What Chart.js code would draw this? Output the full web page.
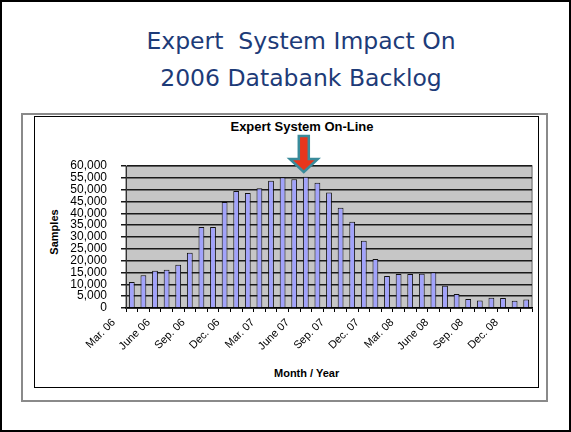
<!DOCTYPE html>
<html>
<head>
<meta charset="utf-8">
<script src="https://cdn.jsdelivr.net/npm/chart.js@4/dist/chart.umd.min.js"></script>
<style>
  html, body { margin: 0; padding: 0; background: #fff; }
  #slide {
    position: relative;
    width: 571px;
    height: 432px;
    box-sizing: border-box;
    border: 2px solid #000;
    overflow: hidden;
  }
  .heading {
    position: absolute;
    left: 0;
    width: 598px;
    text-align: center;
    font-family: "DejaVu Sans", sans-serif;
    font-size: 23.5px;
    color: #1d3b78;
    white-space: pre;
  }
  #outerBox {
    position: absolute;
    left: 19px; top: 111px;
    width: 523px; height: 285px;
    border: 2px solid #8a8a8a;
  }
  #innerBox {
    position: absolute;
    left: 32px; top: 114px;
    width: 503px; height: 270px;
    border: 1.5px solid #000;
  }
  .lbl {
    position: absolute;
    font-family: "Liberation Sans", Arial, sans-serif;
    font-weight: bold;
    color: #000;
    white-space: nowrap;
  }
  #wrap { position: absolute; left: 0; top: 0; width: 571px; height: 432px; }
</style>
</head>
<body>
<div id="slide">
  <div class="heading" style="top:25px;">Expert  System Impact On</div>
  <div class="heading" style="top:62px;">2006 Databank Backlog</div>
  <div id="outerBox"></div>
  <div id="innerBox"></div>
  <div class="lbl" style="left:0;width:600px;text-align:center;top:117px;font-size:13px;">Expert System On-Line</div>
  <div class="lbl" style="left:272px;top:365px;font-size:11px;">Month / Year</div>
  <div class="lbl" style="left:52px;top:230px;font-size:11px;transform:translate(-50%,-50%) rotate(-90deg);">Samples</div>
</div>
<div id="wrap"><canvas id="backlog"></canvas></div>

<script>
// months from Mar. 06 through Jan. 09, every third one gets a label
const months = [
  "Mar. 06", "Apr. 06", "May 06", "June 06", "July 06", "Aug. 06",
  "Sep. 06", "Oct. 06", "Nov. 06", "Dec. 06", "Jan. 07", "Feb. 07",
  "Mar. 07", "Apr. 07", "May 07", "June 07", "July 07", "Aug. 07",
  "Sep. 07", "Oct. 07", "Nov. 07", "Dec. 07", "Jan. 08", "Feb. 08",
  "Mar. 08", "Apr. 08", "May 08", "June 08", "July 08", "Aug. 08",
  "Sep. 08", "Oct. 08", "Nov. 08", "Dec. 08", "Jan. 09"
];

// backlog samples per month
const samples = [
  11000, 13800, 15700, 16200, 18300, 23300, 34200, 34200, 44800, 49400,
  48600, 50600, 53800, 55200, 54400, 55500, 52900, 48800, 42400, 36400,
  28400, 20700, 13500, 14400, 14400, 14500, 15100, 9400, 5900, 3800,
  3200, 4300, 4200, 3050, 3600
];

// y axis ticks
const yMin = 0;
const yMax = 60000;
const yStep = 5000;

// month when the expert system went on-line
const onLineMonth = "June 07";

// gray plot background
const plotBackground = {
  id: "plotBackground",
  beforeDraw(chart) {
    const { ctx, chartArea: a } = chart;
    ctx.save();
    ctx.fillStyle = "#c6c6c6";
    ctx.fillRect(a.left, a.top, a.right - a.left, a.bottom - a.top);
    ctx.strokeStyle = "#8c8c8c";
    ctx.lineWidth = 1.5;
    ctx.strokeRect(a.left, a.top, a.right - a.left, a.bottom - a.top);
    ctx.restore();
  },
};

// red arrow pointing at the on-line month
const onLineArrow = {
  id: "onLineArrow",
  afterDraw(chart) {
    const { ctx, chartArea: a } = chart;
    const x = chart.scales.x.getPixelForValue(months.indexOf(onLineMonth)) - 2;
    const tip = a.top + 6;
    ctx.save();
    ctx.beginPath();
    ctx.moveTo(x, tip);
    ctx.lineTo(x - 14, tip - 13);
    ctx.lineTo(x - 5, tip - 13);
    ctx.lineTo(x - 5, tip - 36);
    ctx.lineTo(x + 5, tip - 36);
    ctx.lineTo(x + 5, tip - 13);
    ctx.lineTo(x + 14, tip - 13);
    ctx.closePath();
    ctx.fillStyle = "#e8361c";
    ctx.fill();
    ctx.lineWidth = 2.5;
    ctx.strokeStyle = "#3a8b9b";
    ctx.stroke();
    ctx.restore();
  },
};

new Chart("backlog", {
  type: "bar",
  data: {
    labels: months,
    datasets: [
      {
        data: samples,
        backgroundColor: "#a2a3fb",
        borderColor: "#111",
        borderWidth: 1,
        barPercentage: 0.5,
        categoryPercentage: 1,
      },
    ],
  },
  options: {
    responsive: true,
    maintainAspectRatio: false,
    animation: false,
    layout: { padding: { top: 166, right: 39, left: 0, bottom: 0 } },
    plugins: {
      legend: { display: false },
      tooltip: { enabled: false },
    },
    scales: {
      x: {
        offset: true,
        afterFit: (s) => { s.height = 124; },
        grid: {
          offset: true,
          drawOnChartArea: false,
          drawTicks: true,
          tickLength: 4,
          color: "#000",
        },
        border: { color: "#000", width: 1.5 },
        ticks: {
          autoSkip: false,
          maxRotation: 45,
          minRotation: 45,
          padding: 4,
          labelOffset: -18,
          color: "#000",
          font: { family: "Liberation Sans", size: 11 },
          callback: (v, i) => (i % 3 === 0 ? months[i] : ""),
        },
      },
      y: {
        min: yMin,
        max: yMax,
        afterFit: (s) => { s.width = 126; },
        grid: {
          color: "#1a1a1a",
          lineWidth: 1.5,
          tickLength: 5,
        },
        border: { color: "#333", width: 1 },
        ticks: {
          stepSize: yStep,
          autoSkip: false,
          padding: 14,
          color: "#000",
          font: { family: "Liberation Sans", size: 12 },
          callback: (v) => v.toLocaleString("en-US"),
        },
      },
    },
  },
  plugins: [plotBackground, onLineArrow],
});
</script>
</body>
</html>
